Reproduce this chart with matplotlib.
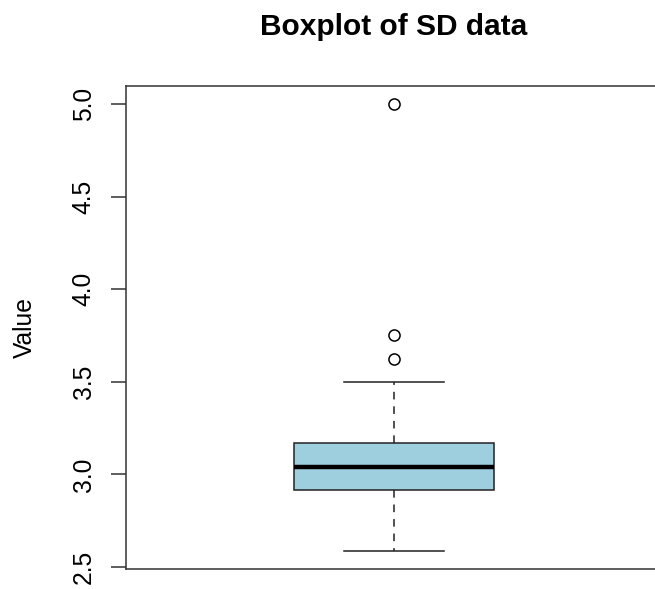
import numpy as np
import matplotlib
matplotlib.use("Agg")
import matplotlib.pyplot as plt

# summary stats of the SD data
q1 = 2.916
median = 3.042
q3 = 3.168
whisker_low = 2.586
whisker_high = 3.5
outliers = [3.625, 3.75, 5.0]
y_ticks = [2.5, 3.0, 3.5, 4.0, 4.5, 5.0]
y_tick_labels = ["2.5", "3.0", "3.5", "4.0", "4.5", "5.0"]

plt.rcParams['font.family'] = ['Liberation Sans', 'DejaVu Sans']

fig = plt.figure(figsize=(6.55, 5.89), dpi=100)
# right edge of the plot frame runs off the image, as in the reference
ax = fig.add_axes([126 / 655, 20 / 589, 536 / 655, 483 / 589])

stats = [{
    'med': median, 'q1': q1, 'q3': q3,
    'whislo': whisker_low, 'whishi': whisker_high,
    'fliers': outliers, 'label': '',
}]

ax.bxp(stats, positions=[1], widths=0.373, capwidths=0.187,
       patch_artist=True, showfliers=True,
       boxprops=dict(facecolor='#9ecfdf', edgecolor='#222222', linewidth=1.1),
       medianprops=dict(color='black', linewidth=3.2),
       whiskerprops=dict(color='#222222', linewidth=1.1, linestyle=(0, (5, 4.5))),
       capprops=dict(color='#222222', linewidth=1.1),
       flierprops=dict(marker='o', markerfacecolor='none', markeredgecolor='black',
                       markersize=8, markeredgewidth=1.1))

# R-style 4% padding on the value range
lo = min(whisker_low, min(outliers))
hi = max(whisker_high, max(outliers))
pad = (hi - lo) * 0.04
ax.set_ylim(lo - pad, hi + pad)
ax.set_xlim(0.5, 1.5)

ax.set_xticks([])
ax.set_yticks(y_ticks)
ax.set_yticklabels(y_tick_labels, fontsize=17.7, rotation=90, va='center')
ax.tick_params(axis='y', length=10.8, width=1.1, pad=11, color='#333333')

for sp in ax.spines.values():
    sp.set_linewidth(1.1)
    sp.set_color('#333333')

ax.set_ylabel('Value', fontsize=17.7)
ax.yaxis.set_label_coords(-0.167, 0.5)

fig.text(394 / 655, 1 - 35 / 589, 'Boxplot of SD data', fontsize=21.5,
         fontweight='bold', ha='center', va='baseline')

plt.savefig('out.png', dpi=100)
